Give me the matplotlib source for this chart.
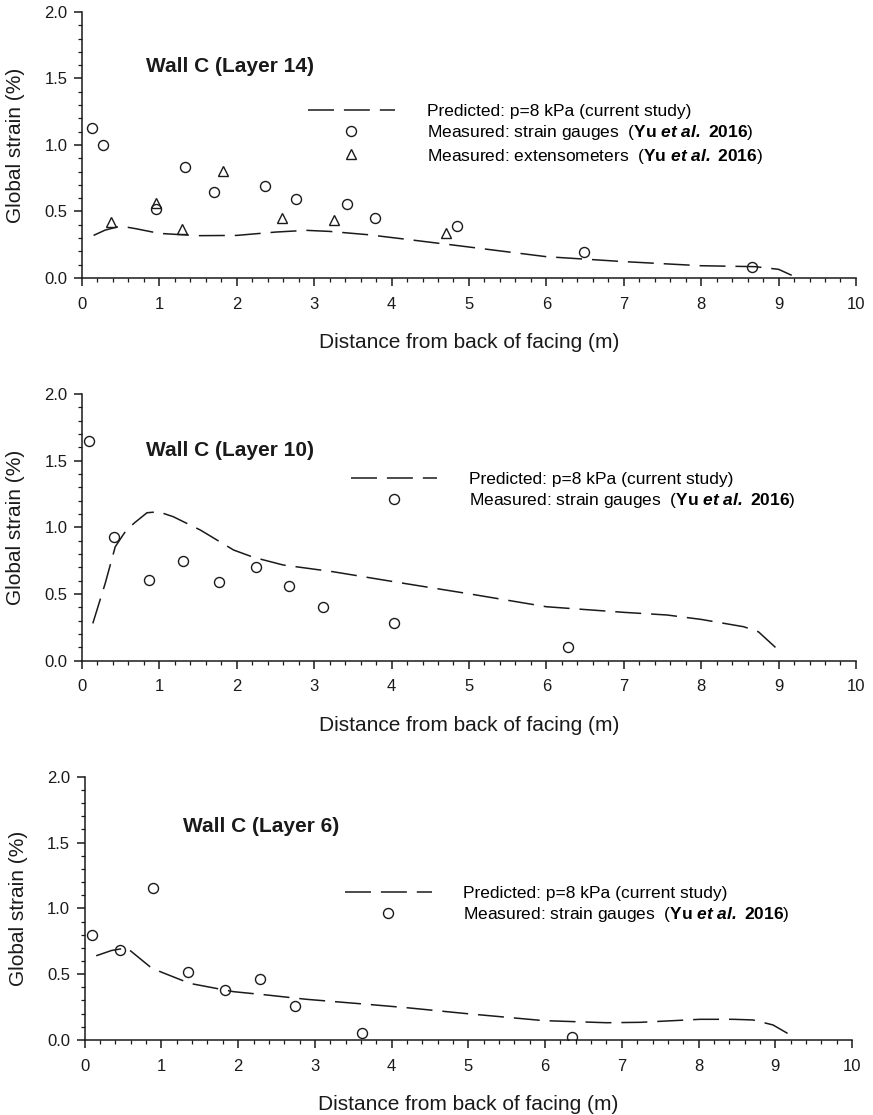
import numpy as np
import matplotlib
matplotlib.use('Agg')
import matplotlib.pyplot as plt
from matplotlib.ticker import MultipleLocator, FormatStrFormatter

plt.rcParams['font.family'] = ['Liberation Sans', 'DejaVu Sans']
plt.rcParams['mathtext.fontset'] = 'custom'
plt.rcParams['mathtext.rm'] = 'Liberation Sans'
plt.rcParams['mathtext.bf'] = 'Liberation Sans:bold'
plt.rcParams['mathtext.it'] = 'Liberation Sans:italic'
plt.rcParams['mathtext.bfit'] = 'Liberation Sans:italic:bold'

# Layer 14
l14_pred_x = [0.15, 0.3, 0.5, 0.7, 1.0, 1.5, 2.0, 2.5, 2.9, 3.2, 3.7, 4.2, 4.9, 6.0, 7.0, 8.0, 8.7, 9.0, 9.17]
l14_pred_y = [0.32, 0.36, 0.39, 0.37, 0.335, 0.318, 0.32, 0.345, 0.358, 0.35, 0.325, 0.29, 0.24, 0.16, 0.123, 0.092, 0.085, 0.065, 0.02]
l14_sg_x = [0.13, 0.27, 0.95, 1.33, 1.70, 2.37, 2.76, 3.43, 3.79, 4.85, 6.49, 8.66]
l14_sg_y = [1.125, 1.0, 0.52, 0.837, 0.65, 0.694, 0.594, 0.556, 0.453, 0.393, 0.193, 0.08]
l14_ext_x = [0.38, 0.95, 1.29, 1.82, 2.59, 3.26, 4.70]
l14_ext_y = [0.42, 0.56, 0.366, 0.807, 0.453, 0.436, 0.34]

# Layer 10
l10_pred_x = [0.14, 0.3, 0.43, 0.55, 0.67, 0.84, 0.99, 1.18, 1.53, 1.96, 2.22, 2.6, 3.25, 4.11, 4.97, 6.0, 7.0, 7.56, 8.0, 8.55, 8.74, 8.96]
l10_pred_y = [0.28, 0.58, 0.855, 0.96, 1.03, 1.11, 1.117, 1.08, 0.98, 0.83, 0.775, 0.718, 0.667, 0.585, 0.505, 0.405, 0.363, 0.343, 0.31, 0.255, 0.217, 0.10]
l10_sg_x = [0.085, 0.42, 0.86, 1.31, 1.77, 2.25, 2.68, 3.11, 4.03, 6.28]
l10_sg_y = [1.65, 0.93, 0.605, 0.748, 0.588, 0.705, 0.563, 0.405, 0.285, 0.105]

# Layer 6
l6_pred_x = [0.15, 0.35, 0.55, 0.85, 0.98, 1.37, 1.94, 2.37, 2.89, 3.68, 4.2, 4.98, 5.98, 6.8, 7.24, 8.02, 8.45, 8.71, 8.97, 9.16]
l6_pred_y = [0.64, 0.68, 0.70, 0.557, 0.52, 0.43, 0.367, 0.342, 0.309, 0.271, 0.245, 0.2, 0.147, 0.131, 0.134, 0.157, 0.157, 0.152, 0.114, 0.05]
l6_sg_x = [0.10, 0.46, 0.89, 1.35, 1.83, 2.28, 2.74, 3.61, 6.35]
l6_sg_y = [0.80, 0.68, 1.157, 0.52, 0.38, 0.46, 0.258, 0.056, 0.025]

lab_pred = 'Predicted: p=8 kPa (current study)'
lab_sg = r'Measured: strain gauges  ($\mathbf{Yu}$ $\mathbfit{et\ al.}$ $\mathbf{2016}$)'
lab_ext = r'Measured: extensometers  ($\mathbf{Yu}$ $\mathbfit{et\ al.}$ $\mathbf{2016}$)'

fig = plt.figure(figsize=(8.73, 11.15), dpi=100)
axes = [fig.add_axes([0.0939, 0.7507, 0.8866, 0.2386]),
        fig.add_axes([0.0939, 0.4074, 0.8866, 0.2392]),
        fig.add_axes([0.0970, 0.0673, 0.8790, 0.2360])]

panels = [
    ('Wall C (Layer 14)', (0.083, 0.794), l14_pred_x, l14_pred_y, l14_sg_x, l14_sg_y, l14_ext_x, l14_ext_y, (0.292, 0.655)),
    ('Wall C (Layer 10)', (0.083, 0.79), l10_pred_x, l10_pred_y, l10_sg_x, l10_sg_y, None, None, (0.347, 0.709)),
    ('Wall C (Layer 6)', (0.128, 0.813), l6_pred_x, l6_pred_y, l6_sg_x, l6_sg_y, None, None, (0.339, 0.587)),
]

for ax, (title, tpos, px, py, sx, sy, ex, ey, lpos) in zip(axes, panels):
    hl, = ax.plot(px, py, color='#1a1a1a', lw=1.1, dashes=[17, 6.5], label=lab_pred)
    hs, = ax.plot(sx, sy, ls='none', marker='o', ms=7.2, mfc='none', mec='#1a1a1a', mew=1.0, label=lab_sg)
    handles = [hl, hs]
    if ex is not None:
        he, = ax.plot(ex, ey, ls='none', marker='^', ms=7.2, mfc='none', mec='#1a1a1a', mew=1.0, label=lab_ext)
        handles.append(he)
    ax.legend(handles=handles, loc='upper left', bbox_to_anchor=lpos, frameon=False,
              fontsize=12.5, handlelength=5.0, handletextpad=1.83, labelspacing=0.25,
              borderpad=0, borderaxespad=0, numpoints=1)
    ax.text(tpos[0], tpos[1], title, transform=ax.transAxes, fontsize=15, fontweight='bold',
            ha='left', va='center', color='#1a1a1a')
    ax.set_xlim(0, 10)
    ax.set_ylim(0, 2.0)
    ax.xaxis.set_major_locator(MultipleLocator(1))
    ax.xaxis.set_minor_locator(MultipleLocator(0.2))
    ax.yaxis.set_major_locator(MultipleLocator(0.5))
    ax.yaxis.set_minor_locator(MultipleLocator(0.1))
    ax.yaxis.set_major_formatter(FormatStrFormatter('%.1f'))
    ax.spines['top'].set_visible(False)
    ax.spines['right'].set_visible(False)
    for s in ('left', 'bottom'):
        ax.spines[s].set_linewidth(1.1)
        ax.spines[s].set_color('#1a1a1a')
    ax.tick_params(which='major', direction='out', length=5.5, width=1.1, labelsize=12, colors='#1a1a1a')
    ax.tick_params(which='minor', direction='out', length=3.2, width=0.9, colors='#1a1a1a')
    ax.tick_params(axis='x', which='major', pad=8)
    ax.tick_params(axis='y', which='major', pad=5)
    ax.set_xlabel('Distance from back of facing (m)', fontsize=15, labelpad=15.5, color='#1a1a1a')
    ax.set_ylabel('Global strain (%)', fontsize=15, labelpad=14, color='#1a1a1a')

fig.savefig('out.png', dpi=100)
